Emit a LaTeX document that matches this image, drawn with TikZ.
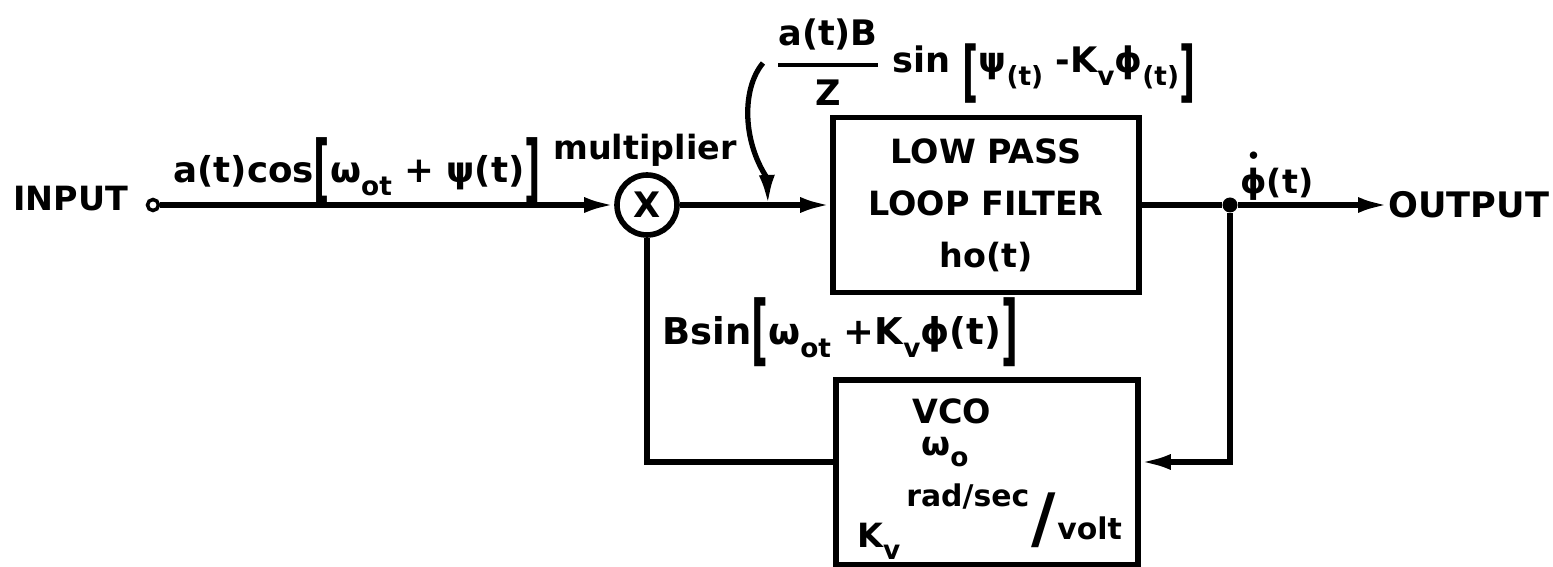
\documentclass[tikz,border=0pt]{standalone}
\usepackage{fontspec}
\setmainfont{DejaVu Sans}
\usepackage{amsmath}
\usepackage{graphicx}
\usetikzlibrary{arrows.meta}
\newcommand{\lsub}[1]{\raisebox{-0.35em}{\fontsize{15}{15}\selectfont #1}}
\newcommand{\bbra}[1]{\raisebox{-0.32em}{\scalebox{1}[2.1]{#1}}}
\newcommand{\tbra}[1]{\raisebox{-0.6em}{\scalebox{1}[1.9]{#1}}}
\newcommand{\phidot}{\ooalign{ϕ\cr\hidewidth\raisebox{0.9em}{\fontsize{12}{12}\selectfont •}\hidewidth\cr}}
\begin{document}
\begin{tikzpicture}[x=0.02cm,y=-0.02cm,
  lbl/.style={font=\bfseries\fontsize{19}{22}\selectfont, inner sep=0pt},
  big/.style={font=\bfseries\fontsize{20.3}{24}\selectfont, inner sep=0pt},
  blk/.style={draw, line width=3.2pt, rectangle, inner sep=0pt},
  wire/.style={line width=3pt},
  arr/.style={wire, -{Latex[length=0.6cm,width=0.32cm]}},
]
\useasboundingbox (0,0) rectangle (1553,567);

% blocks
\node[circle, draw, line width=2pt, fill=white, minimum size=0.22cm, inner sep=0pt] (in) at (153,205) {};
\node[circle, draw, line width=3.2pt, minimum size=1.2cm, inner sep=0pt, font=\bfseries\fontsize{20}{22}\selectfont] (mult) at (647,205) {X};
\node[blk, minimum width=6.12cm, minimum height=3.5cm, align=center, font=\bfseries\fontsize{19}{29.6}\selectfont] (lpf) at (986,205) {LOW PASS\\LOOP FILTER\\ho(t)};
\node[blk, minimum width=6.04cm, minimum height=3.7cm] (vco) at (987,472.5) {};
\node[circle, fill, minimum size=0.3cm, inner sep=0pt] (junc) at (1230,205) {};

% texts
\node[lbl, anchor=west] (inlbltxt) at (13,199) {INPUT};
\node[lbl, anchor=west, font=\bfseries\fontsize{20}{22}\selectfont] (out) at (1388,205) {OUTPUT};
\node[lbl, anchor=base] (multlbl) at (645,160) {multiplier};
\node[big, anchor=base west] (inlbl) at (173,183) {a(t)cos\bbra{[}ω\lsub{ot} + ψ(t)\bbra{]}};
\node[lbl, anchor=center, font=\bfseries\fontsize{20}{22}\selectfont] (frac) at (828,62) {$\displaystyle\genfrac{}{}{2.4pt}{}{\mbox{a(t)B}}{\mbox{Z}}$};
\node[lbl, anchor=base west, font=\bfseries\fontsize{20}{22}\selectfont] (sinlbl) at (892,73) {sin \tbra{[}ψ\lsub{(t)} -K\lsub{v}ϕ\lsub{(t)}\tbra{]}};
\node[big, anchor=base west, font=\bfseries\fontsize{21}{24}\selectfont] (bsinlbl) at (662,345) {Bsin\bbra{[}ω\lsub{ot} +K\lsub{v}ϕ(t)\bbra{]}};
\node[lbl, anchor=base west] (outlbl) at (1240,194) {\phidot(t)};

% VCO contents
\node[lbl] (vcot) at (952,411) {VCO};
\node[lbl] (vcow) at (945,452) {ω\lsub{o}};
\node[lbl, anchor=base west, font=\bfseries\fontsize{17}{18}\selectfont] (vcorad) at (906,507) {rad/sec};
\node[lbl, anchor=base west, font=\bfseries\fontsize{38}{40}\selectfont] (vcosl) at (1031,542) {/};
\node[lbl, anchor=base west, font=\bfseries\fontsize{17}{18}\selectfont] (vcovolt) at (1057,540) {volt};
\node[lbl, anchor=base west] (vcok) at (857,548) {K\lsub{v}};

% connectors
\coordinate (fbR) at (1230,462);
\coordinate (fbL) at (647,462);
\coordinate (cs) at (763,63);
\coordinate (cm) at (767,178);
\coordinate (ct) at (768,205);
\draw[arr] (in) -- (mult);
\draw[arr] (mult) -- (lpf);
\draw[wire] (lpf) -- (junc);
\draw[arr] (junc) -- (out);
\draw[arr] (junc) -- (fbR) -- (vco.east |- fbR);
\draw[wire] (vco.west |- fbL) -- (fbL) -- (mult);
\draw[arr] (cs) .. controls (742,88) and (742,140) .. (cm) -- (ct);
\end{tikzpicture}
\end{document}
